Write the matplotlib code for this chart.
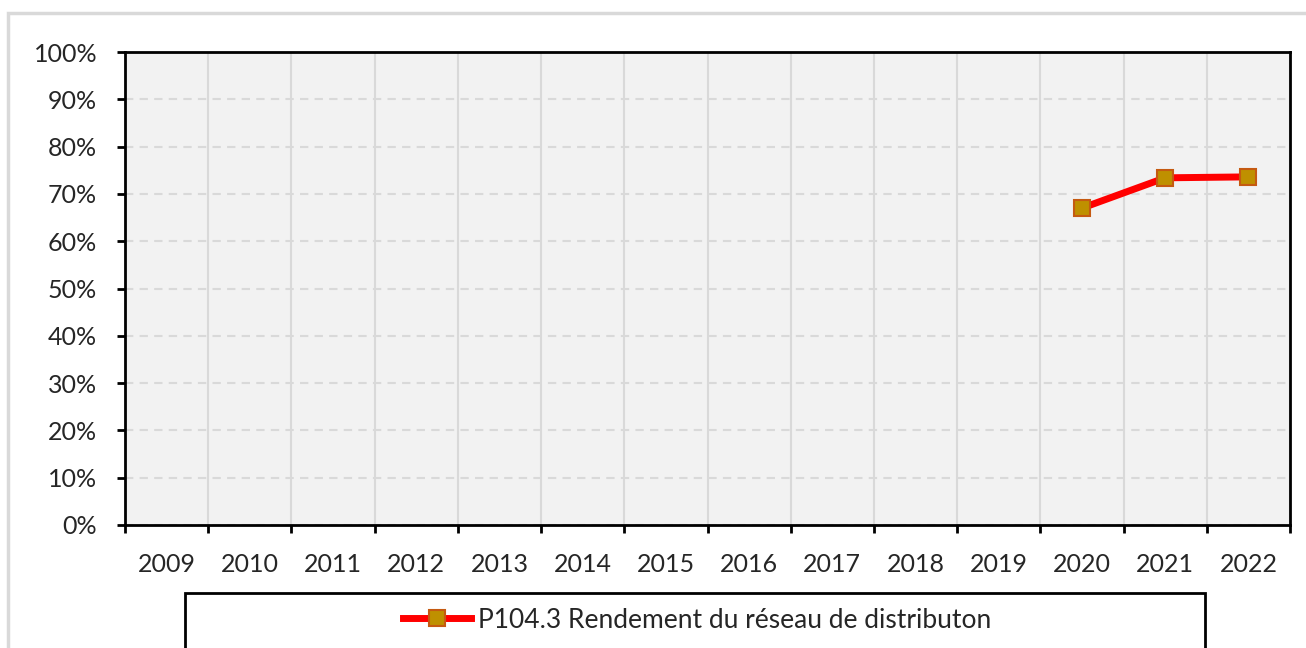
import numpy as np
import matplotlib.pyplot as plt
from matplotlib.patches import Rectangle
from matplotlib.ticker import FixedLocator, PercentFormatter

years = ['2009', '2010', '2011', '2012', '2013', '2014', '2015', '2016',
         '2017', '2018', '2019', '2020', '2021', '2022']
rendement = [np.nan] * 11 + [67.0, 73.4, 73.6]
serie_label = 'P104.3 Rendement du réseau de distributon'

plt.rcParams['font.family'] = ['Lato', 'DejaVu Sans']

fig = plt.figure(figsize=(13.06, 6.48), dpi=100)
# outer chart frame (light grey)
fig.patches.append(Rectangle((8 / 1306, -0.1), 1.2, 1 - 13 / 648 + 0.1,
                             transform=fig.transFigure, fill=False,
                             edgecolor='#D9D9D9', linewidth=2.5))

ax = fig.add_axes([125 / 1306, 1 - 525 / 648, (1290 - 125) / 1306, (525 - 52) / 648])
ax.set_facecolor('#F2F2F2')

x = np.arange(len(years))
ax.plot(x, rendement, color='#FF0000', linewidth=5, marker='s', markersize=12,
        markerfacecolor='#BF9000', markeredgecolor='#C55A11', markeredgewidth=1.5,
        label=serie_label, zorder=3)

ax.set_xlim(-0.5, len(years) - 0.5)
ax.set_ylim(0, 100)

# category axis: ticks between categories, labels at centres
ax.xaxis.set_major_locator(FixedLocator(np.arange(-0.5, len(years), 1.0)))
ax.xaxis.set_minor_locator(FixedLocator(x))
ax.set_xticklabels([], minor=False)
ax.set_xticklabels(years, minor=True)
ax.tick_params(axis='x', which='major', length=6, width=2, direction='out')
ax.tick_params(axis='x', which='minor', length=0, pad=20, labelsize=18, labelcolor='#262626')

ax.set_yticks(np.arange(0, 101, 10))
ax.yaxis.set_major_formatter(PercentFormatter(decimals=0))
ax.tick_params(axis='y', length=6, width=2, direction='out', labelsize=18, labelcolor='#262626', pad=14)

ax.grid(axis='x', which='major', color='#D9D9D9', linewidth=1.5, linestyle='-')
ax.grid(axis='y', color='#D9D9D9', linewidth=1.5, linestyle=(0, (4, 3)))
ax.set_axisbelow(True)

for s in ax.spines.values():
    s.set_linewidth(2)
    s.set_color('black')

# legend box
fig.patches.append(Rectangle((185 / 1306, -0.1), (1205 - 185) / 1306, 0.1 + 1 - 593 / 648,
                             transform=fig.transFigure, fill=False,
                             edgecolor='black', linewidth=2))
fig.legend(loc='center', bbox_to_anchor=(697 / 1306, 1 - 620 / 648), frameon=False,
           fontsize=19, handlelength=2.6, handletextpad=0.25, labelcolor='#262626')

fig.savefig('out.png', dpi=100)
